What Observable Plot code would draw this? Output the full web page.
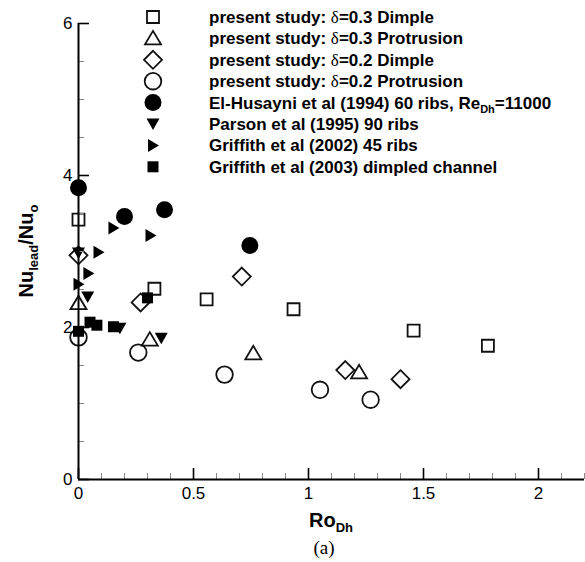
<!DOCTYPE html>
<html><head><meta charset="utf-8">
<script src="https://cdn.jsdelivr.net/npm/d3@7"></script>
<script src="https://cdn.jsdelivr.net/npm/@observablehq/plot@0.6"></script>
<style>body{margin:0;background:#fff;} #chart{width:585px;height:562px;}</style>
</head><body><div id="chart"></div>
<script>
// ---- data ----
const seriesNames = [
  "present study: δ=0.3 Dimple",
  "present study: δ=0.3 Protrusion",
  "present study: δ=0.2 Dimple",
  "present study: δ=0.2 Protrusion",
  "El-Husayni et al (1994) 60 ribs, Re_{Dh}=11000",
  "Parson et al (1995) 90 ribs",
  "Griffith et al (2002) 45 ribs",
  "Griffith et al (2003) dimpled channel"
];
const dim03X = [0, 0.33, 0.557, 0.935, 1.457, 1.78];
const dim03Y = [3.42, 2.51, 2.37, 2.24, 1.96, 1.76];
const pro03X = [0, 0.31, 0.76, 1.22];
const pro03Y = [2.32, 1.84, 1.66, 1.41];
const dim02X = [0, 0.27, 0.71, 1.16, 1.40];
const dim02Y = [2.95, 2.33, 2.67, 1.44, 1.32];
const pro02X = [0, 0.26, 0.635, 1.05, 1.27];
const pro02Y = [1.87, 1.67, 1.38, 1.18, 1.05];
const elhX = [0, 0.2, 0.374, 0.745];
const elhY = [3.84, 3.46, 3.55, 3.08];
const parX = [0, 0.04, 0.18, 0.36];
const parY = [2.98, 2.40, 1.99, 1.86];
const gr02X = [0, 0.043, 0.087, 0.152, 0.313];
const gr02Y = [2.57, 2.71, 2.99, 3.31, 3.21];
const gr03X = [0, 0.05, 0.08, 0.152, 0.30];
const gr03Y = [1.95, 2.07, 2.03, 2.01, 2.39];

const xTicks = [0, 0.5, 1, 1.5, 2];
const xMinor = [0.1, 0.2, 0.3, 0.4, 0.6, 0.7, 0.8, 0.9, 1.1, 1.2, 1.3, 1.4, 1.6, 1.7, 1.8, 1.9, 2.1, 2.2];
const yTicks = [0, 2, 4, 6];
const yMinor = [0.5, 1, 1.5, 2.5, 3, 3.5, 4.5, 5, 5.5];

// ---- symbols ----
const poly = pts => ({draw(ctx) { ctx.moveTo(pts[0][0], pts[0][1]); for (const p of pts.slice(1)) ctx.lineTo(p[0], p[1]); ctx.closePath(); }});
const circ = r => ({draw(ctx) { ctx.moveTo(r, 0); ctx.arc(0, 0, r, 0, 2 * Math.PI); }});
const symSquare = poly([[-6, -6], [6, -6], [6, 6], [-6, 6]]);
const symTriUp = poly([[0, -7.5], [8, 6], [-8, 6]]);
const symDiamond = poly([[0, -9], [9, 0], [0, 9], [-9, 0]]);
const symCircle = circ(8.3);
const symDisc = circ(8.5);
const symTriDown = poly([[-6.5, -5.5], [6.5, -5.5], [0, 6]]);
const symTriRight = poly([[-5, -6.5], [-5, 6.5], [6, 0]]);
const symSquareF = poly([[-5.5, -5.5], [5.5, -5.5], [5.5, 5.5], [-5.5, 5.5]]);

const openStyle = {fill: "none", stroke: "#111", strokeWidth: 1.8};
const fillStyle = {fill: "#000", stroke: "none"};
const series = [
  {xs: dim03X, ys: dim03Y, symbol: symSquare, style: openStyle},
  {xs: pro03X, ys: pro03Y, symbol: symTriUp, style: openStyle},
  {xs: dim02X, ys: dim02Y, symbol: symDiamond, style: openStyle},
  {xs: pro02X, ys: pro02Y, symbol: symCircle, style: openStyle},
  {xs: elhX, ys: elhY, symbol: symDisc, style: fillStyle},
  {xs: parX, ys: parY, symbol: symTriDown, style: fillStyle},
  {xs: gr02X, ys: gr02Y, symbol: symTriRight, style: fillStyle},
  {xs: gr03X, ys: gr03Y, symbol: symSquareF, style: fillStyle}
];

const W = 585, H = 562, mL = 78, mR = 1, mT = 23, mB = 83;
const frameW = W - mL - mR, frameH = H - mT - mB;

const plot = Plot.plot({
  width: W, height: H,
  marginLeft: mL, marginRight: mR, marginTop: mT, marginBottom: mB,
  x: {domain: [0, 2.2], axis: null},
  y: {domain: [0, 6], axis: null},
  style: {fontFamily: "'Liberation Sans', Arial, sans-serif", color: "#000", background: "#fff"},
  marks: [
    ...series.map(s => Plot.dot(s.ys, {x: s.xs, y: s.ys, symbol: s.symbol, ...s.style})),
    // inward minor and major ticks
    Plot.tickX(xMinor, {x: d => d, insetTop: frameH - 6, stroke: "#888", strokeWidth: 1}),
    Plot.tickX(xTicks, {x: d => d, insetTop: frameH - 11, strokeWidth: 1.6}),
    Plot.tickY(yMinor, {y: d => d, insetRight: frameW - 6, stroke: "#888", strokeWidth: 1}),
    Plot.tickY(yTicks, {y: d => d, insetRight: frameW - 11, strokeWidth: 1.6}),
    // tick labels
    Plot.axisX(xTicks, {tickSize: 0, tickPadding: 7, fontSize: 17, tickFormat: d => `${d}`, label: null}),
    Plot.axisY(yTicks, {tickSize: 0, tickPadding: 6, fontSize: 17, tickFormat: d => `${d}`, label: null}),
    Plot.ruleX([0], {strokeWidth: 2}),
    Plot.ruleY([0], {strokeWidth: 2})
  ]
});
document.getElementById("chart").appendChild(plot);

// ---- rich text helper ----
function rich(sel, str, subSize, shift) {
  const parts = str.split(/(δ|_\{[^}]*\})/).filter(p => p !== "");
  let down = false;
  for (const p of parts) {
    const t = sel.append("tspan");
    if (p === "δ") {
      t.text("δ").attr("font-family", "'Liberation Serif', 'DejaVu Serif', serif").attr("font-weight", "normal");
      if (down) { t.attr("dy", -shift); down = false; }
    } else if (p.startsWith("_{")) {
      t.text(p.slice(2, -1)).attr("font-size", subSize).attr("dy", shift);
      down = true;
    } else {
      t.text(p);
      if (down) { t.attr("dy", -shift); down = false; }
    }
  }
}

const svg = d3.select(plot);
const sx = plot.scale("x"), sy = plot.scale("y");

// legend
const lg = svg.append("g").attr("text-anchor", "start");
seriesNames.forEach((name, i) => {
  const cy = 17 + i * 21.4;
  const s = series[i];
  lg.append("path")
    .attr("transform", `translate(153,${cy})`)
    .attr("d", d3.symbol(s.symbol)())
    .attr("fill", s.style.fill)
    .attr("stroke", s.style.stroke)
    .attr("stroke-width", s.style.strokeWidth || null);
  const t = lg.append("text").attr("x", 209).attr("y", cy + 6)
    .attr("text-anchor", "start")
    .attr("font-size", 17).attr("font-weight", "bold")
    .attr("font-family", "'Liberation Sans', Arial, sans-serif");
  rich(t, name, 11, 4);
});

// y label
const yl = svg.append("text")
  .attr("transform", `translate(33,${sy.apply(3)})rotate(-90)`)
  .attr("text-anchor", "middle").attr("font-size", 20).attr("font-weight", "bold")
  .attr("font-family", "'Liberation Sans', Arial, sans-serif");
rich(yl, "Nu_{lead}/Nu_{o}", 13, 5);

// x label
const xl = svg.append("text")
  .attr("x", (sx.apply(0) + sx.apply(2.2)) / 2).attr("y", 527)
  .attr("text-anchor", "middle").attr("font-size", 20).attr("font-weight", "bold")
  .attr("font-family", "'Liberation Sans', Arial, sans-serif");
rich(xl, "Ro_{Dh}", 13, 5);

// caption
svg.append("text").attr("x", 324).attr("y", 554)
  .attr("text-anchor", "middle").attr("font-size", 19)
  .attr("font-family", "'Liberation Serif', 'Times New Roman', serif")
  .text("(a)");
</script>
</body></html>
